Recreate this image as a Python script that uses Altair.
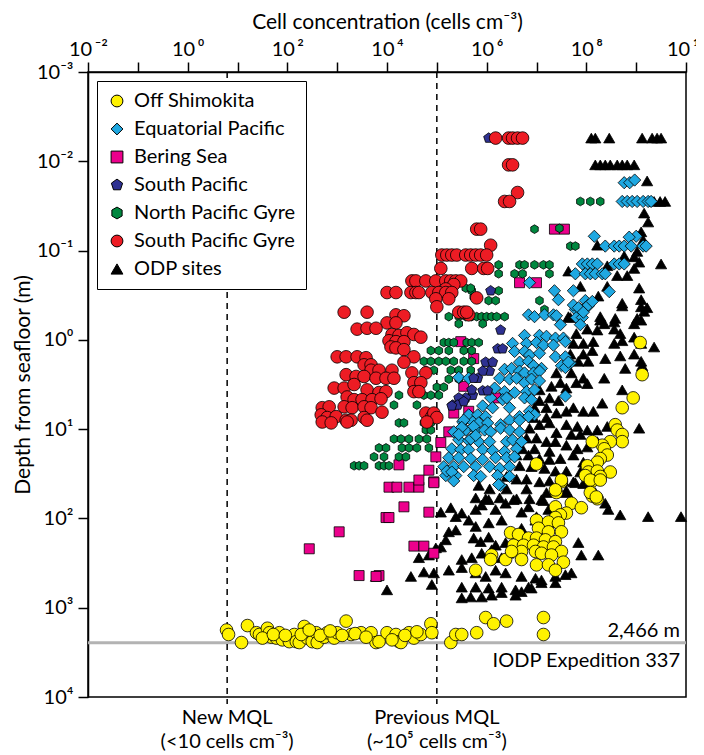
import altair as alt
import pandas as pd

# ---- series definitions (legend order) ----
series_names = ["Off Shimokita", "Equatorial Pacific", "Bering Sea", "South Pacific",
                "North Pacific Gyre", "South Pacific Gyre", "ODP sites"]
series_colors = ["#FFF200", "#1FA8E1", "#EC008C", "#2E3192", "#00873F", "#ED1C24", "#000000"]
PENTAGON = "M0,-1L0.951,-0.309L0.588,0.809L-0.588,0.809L-0.951,-0.309Z"
HEXAGON = "M0,-1L0.866,-0.5L0.866,0.5L0,1L-0.866,0.5L-0.866,-0.5Z"
series_shapes = ["circle", "diamond", "square", PENTAGON, HEXAGON, "circle", "triangle-up"]
series_sizes = [160, 150, 100, 110, 75, 160, 125]

# ---- data: (log10 cells cm-3, log10 depth m) ----
odp_sites = [
    (8.10, -2.26), (8.18, -2.26), (8.46, -2.26), (9.12, -2.26), (9.32, -2.26), (9.42, -2.26), (9.50, -2.26),
    (8.18, -1.96), (8.28, -1.96), (8.38, -1.96), (8.48, -1.96), (8.62, -1.96), (8.72, -1.96), (8.82, -1.96), (8.96, -1.96),
    (9.22, -1.78), (9.36, -1.55), (9.48, -1.55), (9.58, -1.55), (9.16, -1.42), (9.24, -1.32),
    (9.10, -1.21), (9.14, -1.12), (8.22, -1.06), (9.02, -0.99), (8.76, -0.94), (8.96, -0.93), (9.06, -0.87), (9.50, -0.85),
    (7.64, -0.77), (8.42, -0.83), (8.62, -0.72), (8.82, -0.72), (8.96, -0.80),
    (7.88, -0.60), (8.24, -0.49), (8.42, -0.60), (9.06, -0.58), (8.72, -0.41), (9.10, -0.45), (9.16, -0.32), (8.72, -0.38),
    (7.88, -0.30), (7.68, -0.25), (8.28, -0.22), (8.56, -0.20), (9.10, -0.22),
    (9.10, -0.37), (9.22, -0.36), (7.64, -0.26), (8.28, -0.26), (8.58, -0.24), (9.02, -0.24),
    (8.36, -0.18), (8.22, -0.11), (8.56, -0.12), (8.96, -0.18), (7.80, -0.07), (8.02, -0.12),
    (8.68, -0.07), (8.72, 0.01), (8.56, 0.04), (8.96, -0.03), (9.10, 0.04), (7.94, 0.04), (8.14, 0.02), (7.74, 0.04), (9.36, 0.08),
    (8.12, 0.12), (7.94, 0.16), (7.68, 0.16), (9.10, 0.24), (8.96, 0.16), (8.68, 0.18), (8.38, 0.21), (9.12, 0.29), (8.78, 0.32),
    (7.84, 0.24), (8.04, 0.24),
    (7.40, 0.37), (7.70, 0.37), (7.94, 0.43), (8.36, 0.43), (7.80, 0.48), (8.02, 0.49), (8.72, 0.56), (7.48, 0.48), (7.60, 0.54),
    (7.30, 0.52), (7.06, 0.56),
    (7.26, 0.65), (7.06, 0.68), (6.96, 0.76), (7.20, 0.76), (7.44, 0.68), (7.60, 0.80), (7.74, 0.76), (7.94, 0.80), (8.14, 0.80),
    (8.32, 0.71), (7.20, 0.87), (6.94, 0.87), (7.40, 0.82),
    (7.06, 0.95), (7.26, 0.93), (7.60, 0.95), (7.82, 0.97), (8.02, 1.01), (8.22, 1.01), (8.42, 0.97), (9.06, 0.99), (7.40, 1.04),
    (7.70, 1.06), (7.88, 1.06), (6.86, 0.99),
    (6.80, 1.10), (7.00, 1.10), (7.20, 1.14), (7.38, 1.14), (7.60, 1.18), (7.82, 1.22), (8.02, 1.20), (8.22, 1.14), (8.42, 1.14),
    (6.72, 1.22), (6.96, 1.22), (7.26, 1.25),
    (6.60, 1.29), (6.84, 1.29), (7.06, 1.33), (7.26, 1.34), (7.48, 1.33), (7.74, 1.29), (7.94, 1.37), (6.66, 1.41), (6.90, 1.42),
    (7.16, 1.44), (7.38, 1.47), (7.60, 1.47), (7.88, 1.48), (8.14, 1.48),
    (6.40, 1.53), (6.60, 1.56), (6.80, 1.56), (7.06, 1.59), (7.26, 1.58), (7.54, 1.58), (7.74, 1.59), (7.94, 1.61), (5.84, 1.63),
    (6.06, 1.67), (6.40, 1.67), (6.80, 1.67), (7.20, 1.71), (7.60, 1.69),
    (5.78, 1.77), (5.98, 1.78), (6.26, 1.77), (6.60, 1.78), (6.86, 1.78), (7.14, 1.80),
    (5.08, 1.93), (5.28, 1.88), (5.38, 1.98), (5.50, 1.94), (5.64, 2.02), (5.78, 1.90), (5.90, 1.85), (6.04, 1.79), (6.18, 1.90),
    (6.38, 1.83), (6.54, 1.79), (6.70, 1.93), (6.84, 1.87), (7.00, 1.98), (7.10, 1.79), (7.24, 1.90), (7.78, 1.60), (7.98, 1.60),
    (8.44, 1.90), (8.68, 1.96), (9.24, 1.98), (9.90, 1.98), (8.38, 1.83), (8.18, 1.71), (7.70, 1.79), (7.58, 1.71),
    (5.24, 2.15), (5.18, 2.24), (5.38, 2.13), (5.74, 2.22), (5.88, 2.26), (6.04, 2.21), (6.18, 2.30), (6.38, 2.27), (6.70, 2.11),
    (6.98, 2.02), (7.24, 2.05), (5.78, 2.09), (6.04, 2.05), (6.30, 2.02),
    (5.08, 2.32), (4.98, 2.33), (4.64, 2.44), (4.84, 2.41), (5.50, 2.46), (5.70, 2.44), (5.90, 2.39), (6.10, 2.35), (6.30, 2.44),
    (6.44, 2.39), (6.70, 2.37), (7.84, 2.27), (7.90, 2.41), (8.24, 2.41), (7.70, 2.61),
    (4.48, 2.65), (4.74, 2.60), (4.94, 2.61), (5.24, 2.58), (5.50, 2.55), (5.78, 2.61), (5.98, 2.65), (6.18, 2.58), (6.38, 2.61),
    (6.70, 2.65), (6.98, 2.67), (7.10, 2.69), (7.38, 2.65), (7.58, 2.63),
    (4.00, 2.80), (3.78, 2.65), (4.90, 2.74), (5.50, 2.77), (5.78, 2.77), (6.04, 2.78), (6.30, 2.77), (6.58, 2.80), (6.84, 2.77),
    (7.10, 2.72), (7.38, 2.72),
    (5.50, 2.89), (5.68, 2.88), (5.90, 2.88), (6.10, 2.86), (6.30, 2.83), (6.58, 2.86), (6.70, 2.82), (6.90, 2.78),
]

bering_sea = [
    (7.36, -1.24), (7.56, -1.24), (6.66, -0.64), (7.00, -0.64),
    (5.48, 0.02), (5.74, 0.21), (5.54, 0.52), (6.18, 0.65), (5.34, 0.82), (5.64, 0.80),
    (5.24, 1.03), (5.08, 1.15), (4.98, 1.31), (4.24, 1.40), (4.84, 1.46), (4.94, 1.59),
    (4.04, 1.65), (4.20, 1.65), (4.44, 1.65), (4.64, 1.65), (4.64, 1.57), (4.94, 1.60),
    (4.34, 1.87), (4.84, 1.93), (3.98, 1.99), (4.04, 1.99),
    (3.04, 2.15), (2.44, 2.34), (4.54, 2.31), (4.74, 2.31), (4.94, 2.39),
    (3.44, 2.64), (3.84, 2.64), (3.78, 2.65),
]

north_pacific_gyre = [
    (7.88, -1.55), (8.08, -1.55), (8.28, -1.55), (6.96, -1.24), (7.46, -1.25), (7.68, -1.05), (7.78, -1.05),
    (6.24, -0.84), (6.66, -0.84), (6.76, -0.84), (6.96, -0.84), (7.14, -0.84), (7.26, -0.84),
    (6.24, -0.74), (6.56, -0.74), (6.72, -0.74), (7.26, -0.74),
    (5.70, -0.55), (6.24, -0.55), (6.04, -0.44), (6.18, -0.44), (7.06, -0.44), (7.16, -0.34),
    (5.58, -0.58), (5.68, -0.58), (5.74, -0.48),
    (5.24, -0.26), (5.44, -0.26), (5.58, -0.26), (5.70, -0.26), (5.80, -0.26), (5.90, -0.26), (6.00, -0.26),
    (6.10, -0.26), (6.20, -0.26), (6.36, -0.26),
    (5.44, -0.18), (5.92, -0.18),
    (5.14, 0.03), (5.24, 0.03), (5.34, 0.03), (5.60, 0.03), (5.70, 0.03), (5.84, 0.03),
    (4.88, 0.12), (5.04, 0.12), (5.24, 0.12), (5.54, 0.12), (5.70, 0.12),
    (4.74, 0.24), (4.88, 0.24), (5.04, 0.24), (5.18, 0.24), (5.34, 0.24), (5.54, 0.24), (5.70, 0.24),
    (4.78, 0.34), (4.94, 0.34), (5.28, 0.34), (5.44, 0.34), (5.68, 0.34),
    (5.24, 0.44), (5.44, 0.44), (5.00, 0.53), (5.14, 0.53),
    (4.74, 0.62), (4.88, 0.62), (5.04, 0.62), (4.24, 0.62), (4.14, 0.73), (4.60, 0.73),
    (4.24, 0.93), (4.34, 0.93), (4.74, 0.93), (4.88, 0.93), (4.78, 1.01), (4.88, 1.01),
    (4.14, 1.11), (4.28, 1.11), (4.44, 1.11), (4.64, 1.11), (4.80, 1.11),
    (3.84, 1.21), (3.98, 1.21), (4.30, 1.21), (4.44, 1.21), (4.60, 1.21), (4.84, 1.21),
    (3.74, 1.31), (3.94, 1.31), (4.24, 1.31), (4.38, 1.31),
    (3.34, 1.41), (3.44, 1.41), (3.54, 1.41), (3.84, 1.41), (3.94, 1.41), (4.04, 1.41),
]

equatorial_pacific = [
    (8.76, -1.76), (8.87, -1.76), (8.97, -1.79),
    (8.72, -1.55), (8.82, -1.55), (8.92, -1.55), (9.02, -1.55), (9.14, -1.55), (9.24, -1.55), (9.30, -1.55),
    (8.16, -1.16), (9.00, -1.16), (8.86, -1.15),
    (8.38, -1.05), (8.56, -1.05), (8.66, -1.05), (8.76, -1.05), (8.90, -1.05), (9.14, -1.05), (9.20, -1.05),
    (7.92, -0.85), (8.02, -0.85), (8.12, -0.85), (8.22, -0.85), (8.56, -0.85), (8.66, -0.85), (8.76, -0.85),
    (7.78, -0.74), (7.98, -0.74), (8.08, -0.74), (8.18, -0.74), (8.32, -0.74), (8.38, -0.74),
    (6.86, -0.64), (8.46, -0.54), (7.36, -0.55), (7.44, -0.45),
    (7.74, -0.55), (7.98, -0.44), (8.04, -0.38), (7.98, -0.36), (7.78, -0.34), (7.88, -0.34),
    (7.80, -0.25), (7.92, -0.25),
    (7.74, -0.39), (7.84, -0.36), (7.94, -0.31), (8.04, -0.39), (8.12, -0.43),
    (6.84, -0.28), (6.96, -0.26), (7.16, -0.28), (7.34, -0.28), (7.40, -0.27),
    (7.48, -0.17), (7.88, -0.17),
    (6.76, -0.05), (7.06, -0.05), (7.20, -0.04), (7.38, -0.02), (7.54, -0.02), (7.58, 0.02),
    (6.52, 0.04), (6.80, 0.04), (7.00, 0.03), (7.14, 0.06), (7.34, 0.06),
    (6.56, 0.13), (6.76, 0.13), (6.86, 0.17), (7.06, 0.15), (7.38, 0.19), (7.58, 0.19), (7.68, 0.26),
    (6.66, 0.25), (6.84, 0.24), (6.94, 0.29), (7.10, 0.32), (7.50, 0.29), (7.58, 0.31), (7.64, 0.25),
    (6.36, 0.33), (6.50, 0.32), (6.66, 0.35), (6.76, 0.37), (6.94, 0.37), (7.06, 0.35),
    (6.26, 0.43), (6.46, 0.44), (6.60, 0.43), (6.76, 0.48), (6.90, 0.44), (7.06, 0.46),
    (6.16, 0.54), (6.36, 0.58), (6.56, 0.59), (6.80, 0.58), (6.96, 0.56), (7.58, 0.63),
    (6.08, 0.65), (6.32, 0.67), (6.40, 0.65), (6.76, 0.65), (6.90, 0.67),
    (5.92, 0.74), (6.12, 0.76), (6.46, 0.76), (6.86, 0.80), (6.96, 0.84),
    (5.64, 0.84), (5.82, 0.84), (5.98, 0.86), (6.66, 0.86), (6.84, 0.86),
    (5.52, 0.92), (5.72, 0.92), (5.84, 0.93), (6.02, 0.93), (6.28, 0.95), (6.46, 0.90), (6.66, 0.90),
    (5.58, 1.01), (5.78, 1.01), (5.96, 1.01), (6.08, 1.03), (6.28, 0.99), (6.46, 1.01), (6.66, 1.03),
    (5.44, 1.12), (5.64, 1.13), (5.84, 1.14), (6.06, 1.14), (6.40, 1.14), (6.52, 1.12), (6.70, 1.14),
    (5.30, 1.22), (5.48, 1.23), (5.64, 1.23), (5.92, 1.23), (6.12, 1.24), (6.36, 1.25), (6.60, 1.22),
    (5.24, 1.32), (5.44, 1.32), (5.68, 1.33), (5.92, 1.34), (6.18, 1.32), (6.40, 1.32), (6.56, 1.31),
    (5.14, 1.42), (5.34, 1.42), (5.54, 1.42), (5.78, 1.42), (6.06, 1.42), (6.26, 1.44), (6.46, 1.42),
    (5.18, 1.52), (5.38, 1.52), (5.74, 1.52), (5.88, 1.53), (6.22, 1.52), (6.46, 1.53),
    (6.28, 1.63), (6.24, 1.62),
    (5.44, 0.42), (5.64, 0.43), (5.54, 0.90), (5.74, 0.97), (5.50, 0.98), (5.34, 1.03), (5.44, 1.06),
    (5.68, 1.11), (5.78, 1.07), (5.20, 1.47), (5.30, 1.48), (5.34, 1.58),
]

south_pacific = [
    (6.04, -2.26), (6.08, -0.55), (6.28, -0.11), (6.22, 0.10), (6.32, 0.10),
    (5.98, 0.25), (6.12, 0.25), (6.06, 0.35), (5.92, 0.35), (5.82, 0.43),
    (5.72, 0.62), (5.58, 0.65), (5.44, 0.65), (5.32, 0.73), (5.42, 0.73), (5.54, 0.69),
    (5.92, 0.57), (6.02, 0.57), (5.74, 0.43), (5.70, 0.56), (5.30, 0.74),
]

south_pacific_gyre = [
    (6.18, -2.26), (6.44, -2.26), (6.52, -2.26), (6.62, -2.26), (6.72, -2.26),
    (6.44, -1.96), (6.52, -1.96), (6.62, -1.65), (6.36, -1.55), (6.46, -1.55),
    (5.80, -1.24), (5.88, -1.24), (6.08, -1.06),
    (5.10, -0.95), (5.20, -0.95), (5.30, -0.95), (5.40, -0.95), (5.58, -0.95), (5.68, -0.95), (5.78, -0.95),
    (5.88, -0.95), (6.00, -0.95),
    (5.08, -0.80), (5.70, -0.80), (5.94, -0.80), (6.02, -0.80),
    (4.50, -0.66), (4.58, -0.66), (4.78, -0.66), (4.98, -0.66), (5.18, -0.66), (5.28, -0.66), (5.38, -0.66), (5.48, -0.66),
    (5.34, -0.62), (5.18, -0.57),
    (4.00, -0.53), (4.18, -0.53), (4.48, -0.53), (4.58, -0.53), (4.64, -0.53), (4.90, -0.53), (5.04, -0.53), (5.18, -0.53),
    (5.30, -0.53),
    (4.98, -0.46), (5.24, -0.46), (5.80, -0.47), (5.64, -0.28), (5.00, -0.37),
    (5.44, -0.31), (5.54, -0.31), (5.60, -0.31), (3.14, -0.31), (3.60, -0.31),
    (4.18, -0.28), (4.34, -0.27), (4.00, -0.19), (4.18, -0.19),
    (3.40, -0.12), (3.60, -0.13), (3.78, -0.13),
    (4.10, -0.06), (4.24, -0.05), (4.40, -0.08), (4.54, -0.06), (4.68, -0.03),
    (4.04, 0.01), (4.18, 0.02), (4.34, 0.02), (4.08, 0.08), (4.18, 0.09), (4.34, 0.11),
    (4.54, 0.19), (4.34, 0.25),
    (3.00, 0.19), (3.18, 0.19), (3.40, 0.19), (3.58, 0.20), (3.54, 0.28), (3.68, 0.28),
    (3.68, 0.34), (3.84, 0.34), (4.10, 0.34),
    (3.18, 0.39), (3.38, 0.41), (3.54, 0.41), (3.78, 0.43), (3.98, 0.43), (4.14, 0.43),
    (4.50, 0.37), (4.78, 0.37),
    (2.94, 0.54), (3.14, 0.54), (3.34, 0.50), (3.60, 0.56), (3.84, 0.59), (3.98, 0.58),
    (4.54, 0.48), (4.68, 0.48), (4.54, 0.58), (4.64, 0.58),
    (3.20, 0.64), (3.34, 0.67), (3.50, 0.67), (3.70, 0.67), (3.88, 0.66),
    (2.70, 0.76), (2.84, 0.75), (3.14, 0.75), (3.30, 0.76), (3.54, 0.75), (3.68, 0.76), (3.90, 0.81),
    (2.68, 0.84), (2.80, 0.87), (2.98, 0.86), (3.18, 0.90), (3.28, 0.90), (3.54, 0.87), (3.60, 0.90),
    (2.70, 0.92), (2.88, 0.93), (3.20, 0.92),
    (4.78, 0.82), (4.90, 0.86), (4.94, 0.82), (5.00, 0.87), (4.80, 0.92),
]

off_shimokita = [
    (9.08, 0.03), (9.12, 0.39), (8.94, 0.65), (8.72, 0.76),
    (8.58, 0.95), (8.62, 1.01), (8.72, 1.06), (8.72, 1.14), (8.48, 1.14), (8.32, 1.18), (8.36, 1.22), (8.12, 1.14),
    (8.42, 1.29), (8.28, 1.33), (8.22, 1.37), (8.02, 1.41), (8.04, 1.48), (8.22, 1.47), (8.48, 1.48), (8.28, 1.53),
    (8.12, 1.58), (7.98, 1.52), (7.00, 1.39), (7.50, 1.59), (7.40, 1.71), (8.12, 1.75), (8.22, 1.78),
    (7.50, 1.57), (7.38, 1.68), (8.08, 1.57), (8.28, 1.57), (8.08, 1.71), (8.20, 1.76), (7.70, 1.83), (7.90, 1.88),
    (7.38, 1.87), (7.60, 1.94), (7.48, 1.96), (7.38, 1.99), (7.00, 2.02), (7.24, 2.04), (7.44, 2.05), (7.04, 2.11),
    (7.24, 2.15), (7.50, 2.15), (6.48, 2.16), (6.64, 2.18), (6.84, 2.22), (7.00, 2.22), (7.18, 2.24), (7.38, 2.26),
    (6.54, 2.30), (6.74, 2.30), (6.94, 2.30), (7.14, 2.32), (7.34, 2.32), (7.50, 2.37), (6.70, 2.37), (6.98, 2.37),
    (7.10, 2.39), (7.30, 2.41), (7.54, 2.49), (6.10, 2.41), (6.38, 2.46), (6.70, 2.46), (7.00, 2.52), (7.24, 2.52),
    (7.38, 2.58), (6.08, 2.46), (5.78, 2.58), (6.50, 2.37),
    (0.78, 3.25), (0.82, 3.30), (1.08, 3.39), (1.20, 3.20), (1.38, 3.28), (1.44, 3.30), (1.60, 3.23), (1.64, 3.28),
    (1.68, 3.33), (1.78, 3.34), (1.84, 3.28), (1.90, 3.36), (2.04, 3.38), (2.14, 3.30), (2.18, 3.38), (2.24, 3.39),
    (2.34, 3.21), (2.38, 3.28), (2.40, 3.34), (2.50, 3.38), (2.58, 3.28), (2.60, 3.39), (2.74, 3.33), (2.80, 3.28),
    (2.94, 3.34), (3.00, 3.28), (3.18, 3.15), (3.28, 3.30), (3.48, 3.28), (3.68, 3.28), (3.78, 3.39), (3.84, 3.38),
    (4.00, 3.28), (4.18, 3.30), (4.24, 3.38), (4.28, 3.39), (4.44, 3.28), (4.54, 3.34), (4.68, 3.30), (4.88, 3.18),
    (4.90, 3.28), (5.28, 3.39), (5.38, 3.30), (5.50, 3.30), (5.80, 3.28), (5.98, 3.11), (6.14, 3.18), (6.40, 3.15),
    (7.14, 3.11), (7.14, 3.30),
    (1.50, 3.34), (1.72, 3.30), (1.96, 3.31), (2.28, 3.30), (2.44, 3.25), (2.66, 3.31), (2.86, 3.26), (3.10, 3.31),
    (3.36, 3.29), (3.58, 3.33), (4.10, 3.36), (4.36, 3.31), (4.60, 3.27),
]

# drawing order (bottom to top)
draw_order = [
    ("ODP sites", odp_sites),
    ("Bering Sea", bering_sea),
    ("North Pacific Gyre", north_pacific_gyre),
    ("Equatorial Pacific", equatorial_pacific),
    ("South Pacific", south_pacific),
    ("South Pacific Gyre", south_pacific_gyre),
    ("Off Shimokita", off_shimokita),
]

rows = []
for name, pts in draw_order:
    sz = series_sizes[series_names.index(name)]
    for lx, ly in pts:
        rows.append({"conc": 10 ** lx, "depth": 10 ** ly, "series": name, "sz": sz})
df = pd.DataFrame(rows)

# reference lines / annotations
mql_values = [6.2, 1e5]
mql_line1 = ["New MQL", "Previous MQL"]
mql_line2 = ["(<10 cells cm\u207b\u00b3)", "(~10\u2075 cells cm\u207b\u00b3)"]
expedition_depth = 2466

W, H = 598, 625
FONT = "Lato"
FS = 20

# ---- axes ----
x_sup = {-2: "10\u2009\u207b\u00b2", 0: "10\u2009\u2070", 2: "10\u2009\u00b2", 4: "10\u2009\u2074",
         6: "10\u2009\u2076", 8: "10\u2009\u2078", 10: "10\u2009\u00b9\u2070"}
y_sup = {-3: "10\u207b\u00b3", -2: "10\u207b\u00b2", -1: "10\u207b\u00b9", 0: "10\u2070",
         1: "10\u00b9", 2: "10\u00b2", 3: "10\u00b3", 4: "10\u2074"}
E = "round(log(datum.value)/LN10)"
x_expr = "".join(f"{E}=={k} ? '{v}' : " for k, v in x_sup.items()) + "''"
y_expr = "".join(f"{E}=={k} ? '{v}' : " for k, v in y_sup.items()) + "''"

x_scale = alt.Scale(type="log", domain=[1e-2, 1e10])
y_scale = alt.Scale(type="log", domain=[1e-3, 1e4], reverse=True)
x_axis = alt.Axis(orient="top", values=[10.0 ** k for k in range(-2, 11)], labelExpr=x_expr,
                  title="Cell concentration (cells cm\u207b\u00b3)", titlePadding=7, labelPadding=3,
                  grid=False, labelFlush=False)
y_axis = alt.Axis(orient="left", values=[10.0 ** k for k in range(-3, 5)], labelExpr=y_expr,
                  title="Depth from seafloor (m)", titlePadding=3, labelPadding=5, grid=False)

X = alt.X("conc:Q", scale=x_scale, axis=x_axis)
Y = alt.Y("depth:Q", scale=y_scale, axis=y_axis)

legend = alt.Legend(title=None, orient="top-left", offset=9, padding=10,
                    strokeColor="black", fillColor="white", labelFontSize=FS,
                    labelFont=FONT, symbolSize=140, symbolStrokeColor="black",
                    symbolStrokeWidth=1, rowPadding=8, labelLimit=300, labelOffset=7)

points = alt.Chart(df).mark_point(filled=True, opacity=1, stroke="black", strokeWidth=0.8).encode(
    x=X, y=Y,
    color=alt.Color("series:N", scale=alt.Scale(domain=series_names, range=series_colors), legend=legend),
    shape=alt.Shape("series:N", scale=alt.Scale(domain=series_names, range=series_shapes), legend=legend),
    size=alt.Size("sz:Q", scale=None, legend=None),
)

mql_df = pd.DataFrame({"conc": mql_values, "l1": mql_line1, "l2": mql_line2})
mql_rules = alt.Chart(mql_df).mark_rule(color="black", strokeWidth=1.5, strokeDash=[6, 5]).encode(
    x=X, y=alt.value(0), y2=alt.value(H + 7)
)
mql_text1 = alt.Chart(mql_df).mark_text(fontSize=FS, font=FONT, baseline="middle").encode(
    x=X, y=alt.value(H + 21), text="l1:N"
)
mql_text2 = alt.Chart(mql_df).mark_text(fontSize=FS, font=FONT, baseline="middle").encode(
    x=X, y=alt.value(H + 45), text="l2:N"
)

exp_df = pd.DataFrame({"depth": [expedition_depth], "a": ["2,466 m"], "b": ["IODP Expedition 337"]})
exp_rule = alt.Chart(exp_df).mark_rule(color="#B3B3B3", strokeWidth=3).encode(
    y=Y, x=alt.value(0), x2=alt.value(W)
)
exp_text_a = alt.Chart(exp_df).mark_text(fontSize=FS, font=FONT, align="right", baseline="alphabetic", dy=-6).encode(
    y=Y, x=alt.value(W - 6), text="a:N"
)
exp_text_b = alt.Chart(exp_df).mark_text(fontSize=FS, font=FONT, align="right", baseline="top", dy=8).encode(
    y=Y, x=alt.value(W - 6), text="b:N"
)

chart = alt.layer(
    exp_rule, mql_rules, points, exp_text_a, exp_text_b, mql_text1, mql_text2
).properties(
    width=W, height=H,
    autosize=alt.AutoSizeParams(type="none"),
    padding={"left": 80, "top": 64, "right": 10, "bottom": 56},
).configure_view(
    stroke="black", strokeWidth=1.5
).configure_axis(
    domainColor="black", domainWidth=1.5, tickColor="black", tickWidth=1.5, tickSize=10,
    labelFont=FONT, labelFontSize=FS, labelColor="black",
    titleFont=FONT, titleFontSize=21, titleColor="black", titleFontWeight="normal",
).configure_text(color="black")

chart.save("out.html", embed_options={"renderer": "svg", "actions": False})
